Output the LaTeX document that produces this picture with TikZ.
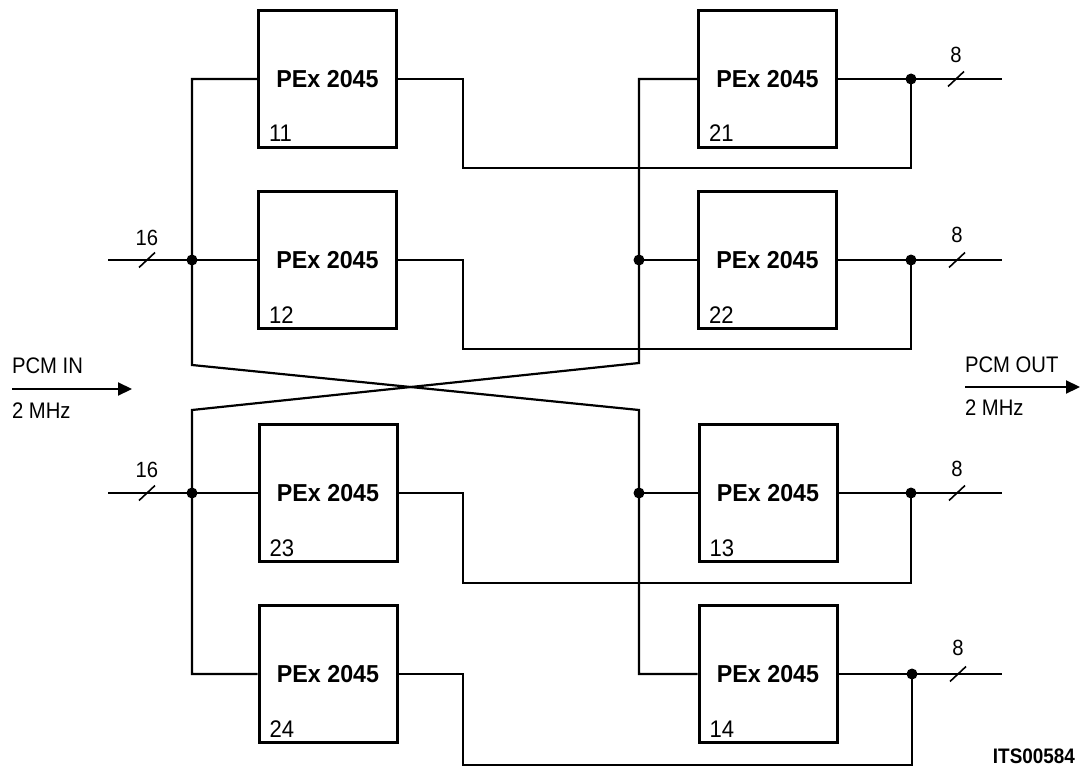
\documentclass[tikz,border=0pt]{standalone}
\usepackage{fontspec}
\setmainfont{Liberation Sans}
\newfontfamily\condfont{Liberation Sans}[FakeStretch=0.92]
\newfontfamily\narrowfont{Liberation Sans}[FakeStretch=0.9]
\newfontfamily\heavyfont{Liberation Sans Bold}[FakeStretch=0.95]
\usetikzlibrary{arrows.meta}
\begin{document}
\begin{tikzpicture}[x=1pt,y=-1pt,
  line width=2.2pt,
  pex/.style={draw, line width=3pt, minimum width=138pt, minimum height=137pt, inner sep=0pt,
    font=\heavyfont\fontsize{24.5}{28}\selectfont},
  num/.style={inner sep=0pt, font=\condfont\fontsize{24}{28}\selectfont, anchor=base west},
  lbl/.style={inner sep=0pt, font=\condfont\fontsize{22}{26}\selectfont},
  pcm/.style={inner sep=0pt, anchor=base west, font=\narrowfont\fontsize{22.5}{26}\selectfont},
  jdot/.style={circle, fill=black, inner sep=0pt, minimum size=11pt},
  flow/.style={line width=2.2pt, -{Triangle[length=14pt,width=13pt]}},
  bus/.pic={\draw[line width=1.6pt] (-8,7.5) -- (8,-7.5);}
]
\useasboundingbox (0,0) rectangle (1080,768);

% boxes
\node[pex] (b11) at (327.5,79) {PEx 2045};
\node[pex] (b12) at (327.5,260) {PEx 2045};
\node[pex] (b23) at (328,493) {PEx 2045};
\node[pex] (b24) at (328,674) {PEx 2045};
\node[pex] (b21) at (767.5,79) {PEx 2045};
\node[pex] (b22) at (767.5,260) {PEx 2045};
\node[pex] (b13) at (768,493) {PEx 2045};
\node[pex] (b14) at (768,674) {PEx 2045};

\foreach \b/\t in {b11/11,b12/12,b23/23,b24/24,b21/21,b22/22,b13/13,b14/14}
  \node[num] (n\t) at ([xshift=11pt,yshift=7pt]\b.south west) {\t};

% junction coordinates
\coordinate (in1) at (108,260);
\coordinate (in2) at (108,493);
\coordinate (j1) at (192,260);
\coordinate (j2) at (192,493);
\coordinate (j3) at (639,260);
\coordinate (j4) at (639,493);
\coordinate (k1) at (911,79);
\coordinate (k2) at (911,260);
\coordinate (k3) at (911,493);
\coordinate (k4) at (912,674);
\coordinate (o1) at (1002,79);
\coordinate (o2) at (1002,260);
\coordinate (o3) at (1002,493);
\coordinate (o4) at (1002,674);

% crossing feeds
\draw (b11.west) -| (192,365) -- (639,410) |- (b14.west);
\draw (b21.west) -| (639,363) -- (192,410) |- (b24.west);

% inputs
\draw (in1) -- (b12.west);
\draw (in2) -- (b23.west);
\draw (j3) -- (b22.west);
\draw (j4) -- (b13.west);

% outputs
\draw (b21.east) -- (o1);
\draw (b22.east) -- (o2);
\draw (b13.east) -- (o3);
\draw (b14.east) -- (o4);
\draw (b11.east) -- (463,79) |- (911,168) -- (k1);
\draw (b12.east) -- (463,260) |- (911,349) -- (k2);
\draw (b23.east) -- (463,493) |- (911,583) -- (k3);
\draw (b24.east) -- (463,674) |- (912,765) -- (k4);

% dots
\foreach \p in {j1,j2,j3,j4,k1,k2,k3,k4}
  \node[jdot] at (\p) {};

% bus marks
\pic at (147,260) {bus};
\pic at (147,493) {bus};
\pic at (956,79) {bus};
\pic at (957,260) {bus};
\pic at (957,493) {bus};
\pic at (958,674) {bus};
\node[lbl] (w1) at (147,238) {16};
\node[lbl] (w2) at (147,470) {16};
\node[lbl] (w3) at (956,55) {8};
\node[lbl] (w4) at (957,235) {8};
\node[lbl] (w5) at (957,469) {8};
\node[lbl] (w6) at (958,648) {8};

% PCM in / out
\coordinate (ai) at (12,389);
\coordinate (bi) at (132,389);
\coordinate (ao) at (965,387);
\coordinate (bo) at (1080,387);
\draw[flow] (ai) -- (bi);
\draw[flow] (ao) -- (bo);
\node[pcm] (pin) at (11,373) {PCM IN};
\node[pcm] (fin) at (11,418) {2 MHz};
\node[pcm] (pout) at (964,372) {PCM OUT};
\node[pcm] (fout) at (964,415) {2 MHz};

\node[inner sep=0pt, anchor=base east, font=\narrowfont\fontsize{21}{24}\selectfont\bfseries] (id) at (1076,763) {ITS00584};
\end{tikzpicture}
\end{document}
